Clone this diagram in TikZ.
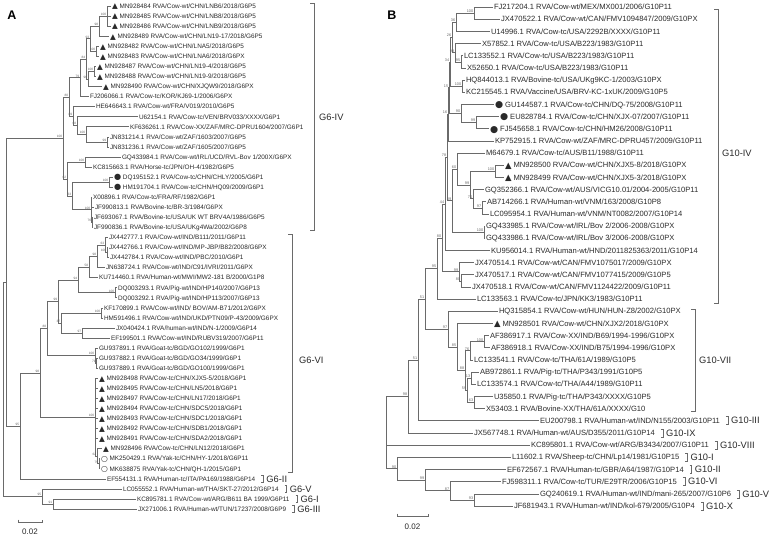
\documentclass[tikz,border=0pt]{standalone}
\usepackage{fontspec}
\setmainfont{Liberation Sans}
\newfontfamily\symf{DejaVu Sans}
\definecolor{brc}{HTML}{6A6A6A}
\definecolor{txc}{HTML}{2A2A2A}
\newcommand\mkTa{\raisebox{-0.5pt}{\symf\fontsize{7.5}{7.5}\selectfont ▲}}
\newcommand\mkDa{\raisebox{-0.5pt}{\symf\fontsize{8.2}{8.2}\selectfont ●}}
\newcommand\mkOa{\raisebox{-0.5pt}{\symf\fontsize{7.8}{7.8}\selectfont ○}}
\newcommand\mkTb{\raisebox{-0.5pt}{\symf\fontsize{8.5}{8.5}\selectfont ▲}}
\newcommand\mkDb{\raisebox{-0.6pt}{\symf\fontsize{9.3}{9.3}\selectfont ●}}
\newcommand\brn[2]{\draw[br] (#1) |- (#2);}
\newcommand\bsa[2]{\node[bsA] (b-#1) at (#1) {#2};}
\newcommand\bsb[2]{\node[bsB] (b-#1) at (#1) {#2};}
\tikzset{
 br/.style={draw=brc, line width=0.6pt},
 brk/.style={draw=brc, line width=0.6pt},
 lfA/.style={anchor=west, inner sep=0.8pt, text=txc, font=\fontsize{6.4}{7}\selectfont, text height=4.6pt, text depth=0pt},
 lfB/.style={anchor=west, inner sep=0.8pt, text=txc, font=\fontsize{7.6}{8}\selectfont, text height=5.4pt, text depth=0pt},
 bsA/.style={anchor=south east, inner sep=0.2pt, text=black!60, font=\fontsize{3.2}{3.4}\selectfont, xshift=-0.4pt, yshift=0.2pt},
 bsB/.style={anchor=south east, inner sep=0.2pt, text=black!60, font=\fontsize{3.8}{4}\selectfont, xshift=-0.4pt, yshift=0.2pt},
 glab/.style={anchor=west, inner sep=0pt, text=txc, font=\fontsize{9.3}{10}\selectfont},
 sclab/.style={inner sep=0pt, text=txc, font=\fontsize{8}{9}\selectfont},
 panel/.style={inner sep=0pt, text=black, font=\bfseries\fontsize{12.5}{13}\selectfont},
}
\begin{document}
\begin{tikzpicture}[x=1pt,y=-1pt]
\useasboundingbox (0,0) rectangle (773,536);
\fill[white] (0,0) rectangle (773,536);
\node[panel] (pA) at (12,15) {A};
\node[panel] (pB) at (392,15) {B};
% ---------------- Panel A leaves ----------------
\node[lfA] (a1) at (111,6.0) {\mkTa\ MN928484 RVA/Cow-wt/CHN/LNB6/2018/G6P5};
\node[lfA] (a2) at (111,16.1) {\mkTa\ MN928485 RVA/Cow-wt/CHN/LNB8/2018/G6P5};
\node[lfA] (a3) at (111,26.1) {\mkTa\ MN928486 RVA/Cow-wt/CHN/LNB9/2018/G6P5};
\node[lfA] (a4) at (109,36.2) {\mkTa\ MN928489 RVA/Cow-wt/CHN/LN19-17/2018/G6P5};
\node[lfA] (a5) at (99,46.2) {\mkTa\ MN928482 RVA/Cow-wt/CHN/LNA5/2018/G6P5};
\node[lfA] (a6) at (99,56.3) {\mkTa\ MN928483 RVA/Cow-wt/CHN/LNA6/2018/G6PX};
\node[lfA] (a7) at (96,66.4) {\mkTa\ MN928487 RVA/Cow-wt/CHN/LN19-4/2018/G6P5};
\node[lfA] (a8) at (96,76.4) {\mkTa\ MN928488 RVA/Cow-wt/CHN/LN19-9/2018/G6P5};
\node[lfA] (a9) at (102,86.5) {\mkTa\ MN928490 RVA/Cow-wt/CHN/XJQW9/2018/G6PX};
\node[lfA] (a10) at (89,96.5) {FJ206066.1 RVA/Cow-tc/KOR/KJ69-1/2006/G6PX};
\node[lfA] (a11) at (95,106.6) {HE646643.1 RVA/Cow-wt/FRA/V019/2010/G6P5};
\node[lfA] (a12) at (138,116.7) {U62154.1 RVA/Cow-tc/VEN/BRV033/XXXX/G6P1};
\node[lfA] (a13) at (129,126.7) {KF636261.1 RVA/Cow-XX/ZAF/MRC-DPRU1604/2007/G6P1};
\node[lfA] (a14) at (109,136.8) {JN831214.1 RVA/Cow-wt/ZAF/1603/2007/G6P5};
\node[lfA] (a15) at (109,146.8) {JN831236.1 RVA/Cow-wt/ZAF/1605/2007/G6P5};
\node[lfA] (a16) at (121,156.9) {GQ433984.1 RVA/Cow-wt/IRL/UCD/RVL-Bov 1/200X/G6PX};
\node[lfA] (a17) at (92,167.0) {KC815663.1 RVA/Horse-tc/JPN/OH-4/1982/G6P5};
\node[lfA] (a18) at (113,177.0) {\mkDa\ DQ195152.1 RVA/Cow-tc/CHN/CHLY/2005/G6P1};
\node[lfA] (a19) at (113,187.1) {\mkDa\ HM191704.1 RVA/Cow-tc/CHN/HQ09/2009/G6P1};
\node[lfA] (a20) at (92,197.1) {X00896.1 RVA/Cow-tc/FRA/RF/1982/G6P1};
\node[lfA] (a21) at (94,207.2) {JF990813.1 RVA/Bovine-tc/BR-3/1984/G6PX};
\node[lfA] (a22) at (93,217.3) {JF693067.1 RVA/Bovine-tc/USA/UK WT BRV4A/1986/G6P5};
\node[lfA] (a23) at (93,227.3) {JF990836.1 RVA/Bovine-tc/USA/UKg4Wa/2002/G6P8};
\node[lfA] (a24) at (108,237.4) {JX442777.1 RVA/Cow-wt/IND/B111/2011/G6P11};
\node[lfA] (a25) at (108,247.4) {JX442766.1 RVA/Cow-wt/IND/MP-JBP/B82/2008/G6PX};
\node[lfA] (a26) at (109,257.5) {JX442784.1 RVA/Cow-wt/IND/PBC/2010/G6P1};
\node[lfA] (a27) at (105,267.6) {JN638724.1 RVA/Cow-wt/IND/C91/IVRI/2011/G6PX};
\node[lfA] (a28) at (98,277.6) {KU714460.1 RVA/Human-wt/MWI/MW2-181 B/2000/G1P8};
\node[lfA] (a29) at (117,287.7) {DQ003293.1 RVA/Pig-wt/IND/HP140/2007/G6P13};
\node[lfA] (a30) at (117,297.7) {DQ003292.1 RVA/Pig-wt/IND/HP113/2007/G6P13};
\node[lfA] (a31) at (103,307.8) {KF170899.1 RVA/Cow-wt/IND/ BOV/AM-B71/2012/G6PX};
\node[lfA] (a32) at (103,317.8) {HM591496.1 RVA/Cow-wt/IND/UKD/PTN09/P-43/2009/G6PX};
\node[lfA] (a33) at (115,327.9) {JX040424.1 RVA/human-wt/IND/N-1/2009/G6P14};
\node[lfA] (a34) at (110,338.0) {EF199501.1 RVA/Cow-wt/IND/RUBV319/2007/G6P11};
\node[lfA] (a35) at (98,348.0) {GU937891.1 RVA/Goat-tc/BGD/GO102/1999/G6P1};
\node[lfA] (a36) at (98,358.1) {GU937882.1 RVA/Goat-tc/BGD/GO34/1999/G6P1};
\node[lfA] (a37) at (98,368.1) {GU937889.1 RVA/Goat-tc/BGD/GO100/1999/G6P1};
\node[lfA] (a38) at (98,378.2) {\mkTa\ MN928498 RVA/Cow-tc/CHN/XJX5-5/2018/G6P1};
\node[lfA] (a39) at (98,388.3) {\mkTa\ MN928495 RVA/Cow-tc/CHN/LN5/2018/G6P1};
\node[lfA] (a40) at (98,398.3) {\mkTa\ MN928497 RVA/Cow-tc/CHN/LN17/2018/G6P1};
\node[lfA] (a41) at (98,408.4) {\mkTa\ MN928494 RVA/Cow-tc/CHN/SDC5/2018/G6P1};
\node[lfA] (a42) at (98,418.4) {\mkTa\ MN928493 RVA/Cow-tc/CHN/SDC1/2018/G6P1};
\node[lfA] (a43) at (98,428.5) {\mkTa\ MN928492 RVA/Cow-tc/CHN/SDB1/2018/G6P1};
\node[lfA] (a44) at (98,438.5) {\mkTa\ MN928491 RVA/Cow-tc/CHN/SDA2/2018/G6P1};
\node[lfA] (a45) at (102,448.6) {\mkTa\ MN928496 RVA/Cow-tc/CHN/LN12/2018/G6P1};
\node[lfA] (a46) at (100,458.6) {\mkOa\ MK250429.1 RVA/Yak-tc/CHN/HY-1/2018/G6P11};
\node[lfA] (a47) at (100,468.7) {\mkOa\ MK638875 RVA/Yak-tc/CHN/QH-1/2015/G6P1};
\node[lfA] (a48) at (106,478.8) {EF554131.1 RVA/Human-tc/ITA/PA169/1988/G6P14};
\node[lfA] (a49) at (122,488.8) {LC055552.1 RVA/Human-wt/THA/SKT-27/2012/G6P14};
\node[lfA] (a50) at (136,498.9) {KC895781.1 RVA/Cow-wt/ARG/B611 BA 1999/G6P11};
\node[lfA] (a51) at (137,508.9) {JX271006.1 RVA/Human-wt/TUN/17237/2008/G6P9};
% ---------------- Panel A internal nodes ----------------
\coordinate (rootA) at (3,389.0);
\coordinate (nIN) at (6,281.85);
\coordinate (nIVa) at (63,137.9);
\coordinate (n115) at (69,96.8);
\coordinate (n110) at (80,77.65);
\coordinate (n19) at (86,58.8);
\coordinate (n16) at (90,38.7);
\coordinate (n1234) at (99,26.15);
\coordinate (n123) at (107,16.1);
\coordinate (n56) at (96,51.25);
\coordinate (n789) at (88,78.95);
\coordinate (n78) at (94,71.4);
\coordinate (n1115) at (73,116.05);
\coordinate (n1215) at (77,125.5);
\coordinate (n1315) at (86,134.25);
\coordinate (n1415) at (107,141.8);
\coordinate (n1623) at (67,178.9);
\coordinate (n1617) at (85,161.95);
\coordinate (n1823) at (72,195.9);
\coordinate (n1819) at (109,182.05);
\coordinate (n2023) at (91,209.7);
\coordinate (n2223) at (92,222.3);
\coordinate (nX) at (20,425.8);
\coordinate (nVI) at (40,372.8);
\coordinate (n2437) at (47,328.45);
\coordinate (n2434) at (58,301.35);
\coordinate (n2430) at (78,279.8);
\coordinate (n2428) at (89,266.9);
\coordinate (n2427) at (97,256.25);
\coordinate (n2426) at (105,244.9);
\coordinate (n2526) at (107,252.45);
\coordinate (n2930) at (115,292.7);
\coordinate (n3134) at (61,322.9);
\coordinate (n3132) at (101,312.8);
\coordinate (n3334) at (82,332.95);
\coordinate (n3537) at (95,355.55);
\coordinate (n3637) at (96.5,363.1);
\coordinate (n3847) at (95,417.15);
\coordinate (n4547) at (97,456.1);
\coordinate (n4647) at (99,463.65);
\coordinate (nOUT) at (42,496.35);
\coordinate (n5051) at (53,503.9);
% ---------------- Panel A branches ----------------
\brn{rootA}{nIN}\brn{rootA}{nOUT}
\brn{nIN}{nIVa}\brn{nIN}{nX}
\brn{nIVa}{n115}\brn{nIVa}{n1623}
\brn{n115}{n110}\brn{n115}{n1115}
\brn{n110}{n19}\brn{n110}{a10.west}
\brn{n19}{n16}\brn{n19}{n789}
\brn{n16}{n1234}\brn{n16}{n56}
\brn{n1234}{n123}\brn{n1234}{a4.west}
\brn{n123}{a1.west}\brn{n123}{a2.west}\brn{n123}{a3.west}
\brn{n56}{a5.west}\brn{n56}{a6.west}
\brn{n789}{n78}\brn{n789}{a9.west}
\brn{n78}{a7.west}\brn{n78}{a8.west}
\brn{n1115}{a11.west}\brn{n1115}{n1215}
\brn{n1215}{a12.west}\brn{n1215}{n1315}
\brn{n1315}{a13.west}\brn{n1315}{n1415}
\brn{n1415}{a14.west}\brn{n1415}{a15.west}
\brn{n1623}{n1617}\brn{n1623}{n1823}
\brn{n1617}{a16.west}\brn{n1617}{a17.west}
\brn{n1823}{n1819}\brn{n1823}{n2023}
\brn{n1819}{a18.west}\brn{n1819}{a19.west}
\brn{n2023}{a20.west}\brn{n2023}{a21.west}\brn{n2023}{n2223}
\brn{n2223}{a22.west}\brn{n2223}{a23.west}
\brn{nX}{nVI}\brn{nX}{a48.west}
\brn{nVI}{n2437}\brn{nVI}{n3847}
\brn{n2437}{n2434}\brn{n2437}{n3537}
\brn{n2434}{n2430}\brn{n2434}{n3134}
\brn{n2430}{n2428}\brn{n2430}{n2930}
\brn{n2428}{n2427}\brn{n2428}{a28.west}
\brn{n2427}{n2426}\brn{n2427}{a27.west}
\brn{n2426}{a24.west}\brn{n2426}{n2526}
\brn{n2526}{a25.west}\brn{n2526}{a26.west}
\brn{n2930}{a29.west}\brn{n2930}{a30.west}
\brn{n3134}{n3132}\brn{n3134}{n3334}
\brn{n3132}{a31.west}\brn{n3132}{a32.west}
\brn{n3334}{a33.west}\brn{n3334}{a34.west}
\brn{n3537}{a35.west}\brn{n3537}{n3637}
\brn{n3637}{a36.west}\brn{n3637}{a37.west}
\foreach \k in {38,...,44}{\brn{n3847}{a\k.west}}
\brn{n3847}{n4547}
\brn{n4547}{a45.west}\brn{n4547}{n4647}
\brn{n4647}{a46.west}\brn{n4647}{a47.west}
\brn{nOUT}{a49.west}\brn{nOUT}{n5051}
\brn{n5051}{a50.west}\brn{n5051}{a51.west}
% ---------------- Panel A bootstrap ----------------
\bsa{n123}{100}\bsa{n1234}{98}\bsa{n56}{100}\bsa{n16}{93}\bsa{n78}{100}
\bsa{n789}{96}\bsa{n19}{84}\bsa{n110}{79}\bsa{n1415}{99}\bsa{n1215}{68}
\bsa{n1115}{89}\bsa{n115}{80}\bsa{n1617}{100}\bsa{n1819}{100}\bsa{n2223}{76}
\bsa{n1315}{100}
\bsa{n2023}{100}\bsa{n1823}{63}\bsa{n1623}{62}\bsa{nIVa}{100}
\bsa{n2526}{100}\bsa{n2426}{63}\bsa{n2427}{98}\bsa{n2428}{58}\bsa{n2930}{100}
\bsa{n2430}{94}\bsa{n3132}{100}\bsa{n3334}{97}\bsa{n3134}{37}\bsa{n2434}{99}
\bsa{n3637}{71}\bsa{n3537}{100}\bsa{n2437}{88}\bsa{n4647}{75}\bsa{n4547}{62}
\bsa{n3847}{100}\bsa{nVI}{98}\bsa{nX}{95}\bsa{n5051}{91}\bsa{nOUT}{95}
% ---------------- Panel A brackets ----------------
\draw[brk] (310,3) -- (314,3) -- (314,230) -- (310,230);
\node[glab] (g6iv) at (319,117) {G6-IV};
\draw[brk] (288,234) -- (292,234) -- (292,472) -- (288,472);
\node[glab] (g6vi) at (299,360) {G6-VI};
\foreach \lf/\gl/\nm in {a48/G6-II/gii, a49/G6-V/gv, a50/G6-I/gi, a51/G6-III/giii}{
 \draw[brk] ([xshift=5pt,yshift=3.5pt]\lf.east) -- ++(2,0) -- ++(0,7) -- ++(-2,0);
 \node[glab] (a\nm) at ([xshift=10pt]\lf.east) {\gl};
}
% scale A
\coordinate (sA1) at (18,522); \coordinate (sA2) at (42,522);
\draw[br] ([yshift=2.5pt]sA1) -- (sA1) -- (sA2) -- ([yshift=2.5pt]sA2);
\node[sclab] (sAl) at (30,531.5) {0.02};
% ---------------- Panel B leaves ----------------
\node[lfB] (b1) at (493,7.0) {FJ217204.1 RVA/Cow-wt/MEX/MX001/2006/G10P11};
\node[lfB] (b2) at (500,19.17) {JX470522.1 RVA/Cow-wt/CAN/FMV1094847/2009/G10PX};
\node[lfB] (b3) at (490,31.34) {U14996.1 RVA/Cow-tc/USA/2292B/XXXX/G10P11};
\node[lfB] (b4) at (481,43.51) {X57852.1 RVA/Cow-tc/USA/B223/1983/G10P11};
\node[lfB] (b5) at (463,55.68) {LC133552.1 RVA/Cow-tc/USA/B223/1983/G10P11};
\node[lfB] (b6) at (466,67.85) {X52650.1 RVA/Cow-tc/USA/B223/1983/G10P11};
\node[lfB] (b7) at (465,80.02) {HQ844013.1 RVA/Bovine-tc/USA/UKg9KC-1/2003/G10PX};
\node[lfB] (b8) at (465,92.19) {KC215545.1 RVA/Vaccine/USA/BRV-KC-1xUK/2009/G10P5};
\node[lfB] (b9) at (494,104.36) {\mkDb\ GU144587.1 RVA/Cow-tc/CHN/DQ-75/2008/G10P11};
\node[lfB] (b10) at (499,116.53) {\mkDb\ EU828784.1 RVA/Cow-tc/CHN/XJX-07/2007/G10P11};
\node[lfB] (b11) at (489,128.7) {\mkDb\ FJ545658.1 RVA/Cow-tc/CHN/HM26/2008/G10P11};
\node[lfB] (b12) at (494,140.87) {KP752915.1 RVA/Cow-wt/ZAF/MRC-DPRU457/2009/G10P11};
\node[lfB] (b13) at (485,153.04) {M64679.1 RVA/Cow-tc/AUS/B11/1988/G10P11};
\node[lfB] (b14) at (504,165.21) {\mkTb\ MN928500 RVA/Cow-wt/CHN/XJX5-8/2018/G10PX};
\node[lfB] (b15) at (504,177.38) {\mkTb\ MN928499 RVA/Cow-wt/CHN/XJX5-3/2018/G10PX};
\node[lfB] (b16) at (484,189.55) {GQ352366.1 RVA/Cow-wt/AUS/VICG10.01/2004-2005/G10P11};
\node[lfB] (b17) at (486,201.72) {AB714266.1 RVA/Human-wt/VNM/163/2008/G10P8};
\node[lfB] (b18) at (489,213.89) {LC095954.1 RVA/Human-wt/VNM/NT0082/2007/G10P14};
\node[lfB] (b19) at (485,226.06) {GQ433985.1 RVA/Cow-wt/IRL/Bov 2/2006-2008/G10PX};
\node[lfB] (b20) at (485,238.23) {GQ433986.1 RVA/Cow-wt/IRL/Bov 3/2006-2008/G10PX};
\node[lfB] (b21) at (490,250.4) {KU956014.1 RVA/Human-wt/HND/2011825363/2011/G10P14};
\node[lfB] (b22) at (474,262.57) {JX470514.1 RVA/Cow-wt/CAN/FMV1075017/2009/G10PX};
\node[lfB] (b23) at (474,274.74) {JX470517.1 RVA/Cow-wt/CAN/FMV1077415/2009/G10P5};
\node[lfB] (b24) at (471,286.91) {JX470518.1 RVA/Cow-wt/CAN/FMV1124422/2009/G10P11};
\node[lfB] (b25) at (476,299.08) {LC133563.1 RVA/Cow-tc/JPN/KK3/1983/G10P11};
\node[lfB] (b26) at (498,311.25) {HQ315854.1 RVA/Cow-wt/HUN/HUN-Z8/2002/G10PX};
\node[lfB] (b27) at (493,323.42) {\mkTb\ MN928501 RVA/Cow-wt/CHN/XJX2/2018/G10PX};
\node[lfB] (b28) at (489,335.59) {AF386917.1 RVA/Cow-XX/IND/B69/1994-1996/G10PX};
\node[lfB] (b29) at (490,347.76) {AF386918.1 RVA/Cow-XX/IND/B75/1994-1996/G10PX};
\node[lfB] (b30) at (473,359.93) {LC133541.1 RVA/Cow-tc/THA/61A/1989/G10P5};
\node[lfB] (b31) at (479,372.1) {AB972861.1 RVA/Pig-tc/THA/P343/1991/G10P5};
\node[lfB] (b32) at (476,384.27) {LC133574.1 RVA/Cow-tc/THA/A44/1989/G10P11};
\node[lfB] (b33) at (493,396.44) {U35850.1 RVA/Pig-tc/THA/P343/XXXX/G10P5};
\node[lfB] (b34) at (485,408.61) {X53403.1 RVA/Bovine-XX/THA/61A/XXXX/G10};
\node[lfB] (b35) at (539,420.78) {EU200798.1 RVA/Human-wt/IND/N155/2003/G10P11};
\node[lfB] (b36) at (473,432.95) {JX567748.1 RVA/Human-wt/AUS/D355/2011/G10P14};
\node[lfB] (b37) at (530,445.12) {KC895801.1 RVA/Cow-wt/ARG/B3434/2007/G10P11};
\node[lfB] (b38) at (511,457.29) {L11602.1 RVA/Sheep-tc/CHN/Lp14/1981/G10P15};
\node[lfB] (b39) at (506,469.46) {EF672567.1 RVA/Human-tc/GBR/A64/1987/G10P14};
\node[lfB] (b40) at (501,481.63) {FJ598311.1 RVA/Cow-tc/TUR/E29TR/2006/G10P15};
\node[lfB] (b41) at (539,493.8) {GQ240619.1 RVA/Human-wt/IND/mani-265/2007/G10P6};
\node[lfB] (b42) at (513,505.97) {JF681943.1 RVA/Human-wt/IND/kol-679/2005/G10P4};
% ---------------- Panel B internal nodes ----------------
\coordinate (rootB) at (386,432.6);
\coordinate (nIX) at (408,396.35);
\coordinate (nIII) at (418,359.8);
\coordinate (nIVVII) at (425,298.8);
\coordinate (nIV) at (437,268.45);
\coordinate (nP5) at (442,237.8);
\coordinate (nP4) at (445,203.95);
\coordinate (nP3) at (447,157.45);
\coordinate (nP2) at (448,114.3);
\coordinate (nP1) at (449,87.65);
\coordinate (m18) at (450,61.8);
\coordinate (m16) at (452,37.45);
\coordinate (m13) at (456,22.15);
\coordinate (m12) at (474,13.1);
\coordinate (m46) at (455,52.7);
\coordinate (m56) at (461,61.8);
\coordinate (m78) at (462,86.1);
\coordinate (m911) at (461,113.5);
\coordinate (m1011) at (476,122.6);
\coordinate (m1320) at (452,200.65);
\coordinate (m1318) at (457,169.05);
\coordinate (m1418) at (470,185);
\coordinate (m1415) at (495,171.3);
\coordinate (m1618) at (473,198.65);
\coordinate (m1718) at (482,207.8);
\coordinate (m1920) at (484,232.15);
\coordinate (m2224) at (459,271.7);
\coordinate (m2324) at (461,280.8);
\coordinate (nVII) at (448,329.1);
\coordinate (m2734) at (457,347);
\coordinate (m3034) at (465,370.55);
\coordinate (m2830) at (470,350.75);
\coordinate (m2829) at (484,341.65);
\coordinate (m3134) at (467,390.3);
\coordinate (m3132) at (471,378.15);
\coordinate (m3334) at (474,402.5);
\coordinate (m3842) at (397,468.75);
\coordinate (m3942) at (425,480.15);
\coordinate (m4042) at (450,490.75);
\coordinate (m4142) at (474,499.9);
% ---------------- Panel B branches ----------------
\brn{rootB}{nIX}\brn{rootB}{b37.west}\brn{rootB}{m3842}
\brn{nIX}{nIII}\brn{nIX}{b36.west}
\brn{nIII}{nIVVII}\brn{nIII}{b35.west}
\brn{nIVVII}{nIV}\brn{nIVVII}{nVII}
\brn{nIV}{nP5}\brn{nIV}{b25.west}
\brn{nP5}{nP4}\brn{nP5}{m2224}
\brn{nP4}{nP3}\brn{nP4}{b21.west}
\brn{nP3}{nP2}\brn{nP3}{m1320}
\brn{nP2}{nP1}\brn{nP2}{b12.west}
\brn{nP1}{m18}\brn{nP1}{m911}
\brn{m18}{m16}\brn{m18}{m78}
\brn{m16}{m13}\brn{m16}{m46}
\brn{m13}{m12}\brn{m13}{b3.west}
\brn{m12}{b1.west}\brn{m12}{b2.west}
\brn{m46}{b4.west}\brn{m46}{m56}
\brn{m56}{b5.west}\brn{m56}{b6.west}
\brn{m78}{b7.west}\brn{m78}{b8.west}
\brn{m911}{b9.west}\brn{m911}{m1011}
\brn{m1011}{b10.west}\brn{m1011}{b11.west}
\brn{m1320}{m1318}\brn{m1320}{m1920}
\brn{m1318}{b13.west}\brn{m1318}{m1418}
\brn{m1418}{m1415}\brn{m1418}{m1618}
\brn{m1415}{b14.west}\brn{m1415}{b15.west}
\brn{m1618}{b16.west}\brn{m1618}{m1718}
\brn{m1718}{b17.west}\brn{m1718}{b18.west}
\brn{m1920}{b19.west}\brn{m1920}{b20.west}
\brn{m2224}{b22.west}\brn{m2224}{m2324}
\brn{m2324}{b23.west}\brn{m2324}{b24.west}
\brn{nVII}{b26.west}\brn{nVII}{m2734}
\brn{m2734}{b27.west}\brn{m2734}{m3034}
\brn{m3034}{m2830}\brn{m3034}{m3134}
\brn{m2830}{m2829}\brn{m2830}{b30.west}
\brn{m2829}{b28.west}\brn{m2829}{b29.west}
\brn{m3134}{m3132}\brn{m3134}{m3334}
\brn{m3132}{b31.west}\brn{m3132}{b32.west}
\brn{m3334}{b33.west}\brn{m3334}{b34.west}
\brn{m3842}{b38.west}\brn{m3842}{m3942}
\brn{m3942}{b39.west}\brn{m3942}{m4042}
\brn{m4042}{b40.west}\brn{m4042}{m4142}
\brn{m4142}{b41.west}\brn{m4142}{b42.west}
% ---------------- Panel B bootstrap ----------------
\bsb{m12}{100}\bsb{m13}{36}\bsb{m56}{95}\bsb{m46}{98}\bsb{m16}{26}\bsb{m78}{100}
\bsb{m18}{34}\bsb{m1011}{99}\bsb{m911}{90}\bsb{nP1}{15}\bsb{nP2}{16}
\bsb{m1415}{100}\bsb{m1718}{97}\bsb{m1618}{74}\bsb{m1418}{99}\bsb{m1318}{60}
\bsb{m1920}{100}\bsb{m1320}{39}\bsb{nP3}{78}\bsb{nP4}{44}\bsb{m2324}{80}
\bsb{m2224}{99}\bsb{nP5}{80}\bsb{nIV}{95}\bsb{m2829}{100}\bsb{m2830}{76}
\bsb{m3132}{13}\bsb{m3334}{63}\bsb{m3134}{59}\bsb{m3034}{88}\bsb{m2734}{85}
\bsb{nVII}{97}\bsb{nIVVII}{51}\bsb{nIII}{51}\bsb{nIX}{98}\bsb{m4142}{93}
\bsb{m4042}{87}\bsb{m3942}{99}\bsb{m3842}{90}
% ---------------- Panel B brackets ----------------
\draw[brk] (714,9) -- (718,9) -- (718,303) -- (714,303);
\node[glab] (g10iv) at (722,153) {G10-IV};
\draw[brk] (691,309) -- (695,309) -- (695,411) -- (691,411);
\node[glab] (g10vii) at (699,360) {G10-VII};
\foreach \lf/\gl/\nm in {b35/G10-III/giii, b36/G10-IX/gix, b37/G10-VIII/gviii, b38/G10-I/gi, b39/G10-II/gii, b40/G10-VI/gvi, b41/G10-V/gv, b42/G10-X/gx}{
 \draw[brk] ([xshift=5pt,yshift=4pt]\lf.east) -- ++(2,0) -- ++(0,8) -- ++(-2,0);
 \node[glab] (\nm) at ([xshift=10pt]\lf.east) {\gl};
}
% scale B
\coordinate (sB1) at (397,516); \coordinate (sB2) at (428,516);
\draw[br] ([yshift=2.5pt]sB1) -- (sB1) -- (sB2) -- ([yshift=2.5pt]sB2);
\node[sclab] (sBl) at (412.5,527) {0.02};
\end{tikzpicture}
\end{document}
